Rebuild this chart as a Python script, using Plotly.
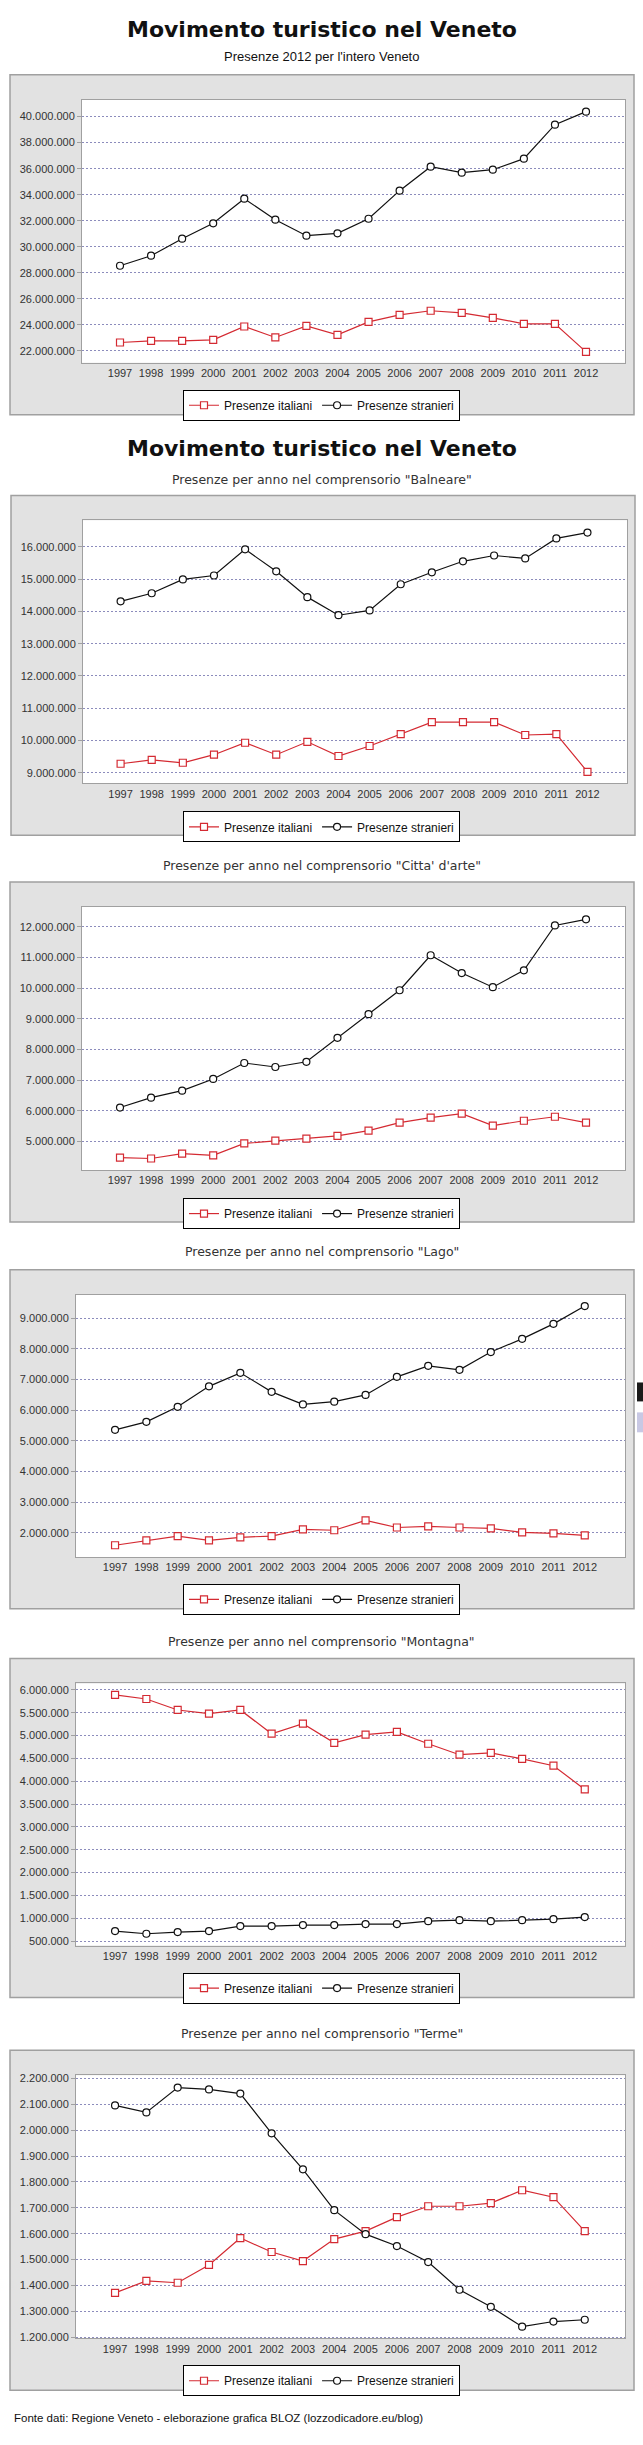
import plotly.graph_objects as go

W, H = 643, 2445

years = ["1997", "1998", "1999", "2000", "2001", "2002", "2003", "2004",
         "2005", "2006", "2007", "2008", "2009", "2010", "2011", "2012"]

veneto_italiani = [22640000, 22770000, 22770000, 22850000, 23870000, 23030000, 23920000, 23230000,
                   24230000, 24770000, 25080000, 24920000, 24540000, 24080000, 24080000, 21920000]
veneto_stranieri = [28540000, 29310000, 30620000, 31800000, 33690000, 32080000, 30850000, 31030000,
                    32150000, 34310000, 36150000, 35690000, 35920000, 36770000, 39380000, 40380000]

balneare_italiani = [9280000, 9400000, 9310000, 9560000, 9930000, 9560000, 9960000, 9520000,
                     9830000, 10200000, 10570000, 10570000, 10570000, 10170000, 10200000, 9030000]
balneare_stranieri = [14310000, 14560000, 14990000, 15110000, 15920000, 15240000, 14440000, 13880000,
                      14030000, 14840000, 15210000, 15550000, 15730000, 15640000, 16260000, 16440000]

arte_italiani = [4480000, 4450000, 4610000, 4550000, 4940000, 5030000, 5100000, 5190000,
                 5360000, 5620000, 5780000, 5910000, 5520000, 5680000, 5810000, 5620000]
arte_stranieri = [6110000, 6430000, 6660000, 7040000, 7560000, 7430000, 7600000, 8380000,
                  9150000, 9930000, 11070000, 10490000, 10030000, 10580000, 12040000, 12240000]

lago_italiani = [1590000, 1750000, 1890000, 1750000, 1850000, 1890000, 2110000, 2080000,
                 2400000, 2170000, 2210000, 2170000, 2140000, 2010000, 1980000, 1910000]
lago_stranieri = [5360000, 5620000, 6110000, 6780000, 7220000, 6600000, 6190000, 6280000,
                  6500000, 7090000, 7450000, 7320000, 7900000, 8330000, 8820000, 9400000]

montagna_italiani = [5890000, 5800000, 5560000, 5480000, 5560000, 5040000, 5260000, 4840000,
                     5020000, 5080000, 4820000, 4580000, 4620000, 4490000, 4340000, 3820000]
montagna_stranieri = [718000, 660000, 696000, 718000, 827000, 827000, 849000, 849000,
                      871000, 871000, 936000, 958000, 936000, 958000, 980000, 1024000]

terme_italiani = [1371000, 1417000, 1410000, 1479000, 1583000, 1529000, 1494000, 1579000,
                  1610000, 1664000, 1706000, 1706000, 1718000, 1768000, 1741000, 1610000]
terme_stranieri = [2096000, 2069000, 2165000, 2158000, 2142000, 1988000, 1849000, 1691000,
                   1598000, 1552000, 1490000, 1383000, 1317000, 1240000, 1260000, 1267000]

series_names = ["Presenze italiani", "Presenze stranieri"]

main_title = "Movimento turistico nel Veneto"
subtitles = [
    "Presenze 2012 per l'intero Veneto",
    'Presenze per anno nel comprensorio "Balneare"',
    'Presenze per anno nel comprensorio "Citta\' d\'arte"',
    'Presenze per anno nel comprensorio "Lago"',
    'Presenze per anno nel comprensorio "Montagna"',
    'Presenze per anno nel comprensorio "Terme"',
]
footer = "Fonte dati: Regione Veneto - eleborazione grafica BLOZ (lozzodicadore.eu/blog)"

data = [
    (veneto_italiani, veneto_stranieri),
    (balneare_italiani, balneare_stranieri),
    (arte_italiani, arte_stranieri),
    (lago_italiani, lago_stranieri),
    (montagna_italiani, montagna_stranieri),
    (terme_italiani, terme_stranieri),
]

# layout geometry in pixels
geom = [
    dict(box=(10, 72, 634, 413), plot=(82, 97, 625, 361), xr=(-1.223, 16.255), yr=(21.08e6, 41.30e6), tick0=22e6, dtick=2e6, leg=388, sub=54),
    dict(box=(11, 494, 635, 835), plot=(83, 519, 627, 783), xr=(-1.208, 16.27), yr=(8.67e6, 16.82e6), tick0=9e6, dtick=1e6, leg=811, sub=478),
    dict(box=(10, 882, 634, 1223), plot=(82, 907, 625, 1171), xr=(-1.223, 16.255), yr=(4.07e6, 12.64e6), tick0=5e6, dtick=1e6, leg=1199, sub=865),
    dict(box=(10, 1271, 634, 1611), plot=(76, 1296, 625, 1559), xr=(-1.247, 16.285), yr=(1.21e6, 9.77e6), tick0=2e6, dtick=1e6, leg=1586, sub=1253),
    dict(box=(10, 1661, 634, 2001), plot=(76, 1686, 625, 1949), xr=(-1.247, 16.285), yr=(0.40e6, 6.14e6), tick0=0.5e6, dtick=0.5e6, leg=1976, sub=1644),
    dict(box=(10, 2054, 634, 2395), plot=(76, 2079, 625, 2343), xr=(-1.247, 16.285), yr=(1.195e6, 2.213e6), tick0=1.2e6, dtick=1e5, leg=2370, sub=2037),
]

RED = "#d42a32"
BLACK = "#111111"
GRID = "#8c8cbc"
BORDER = "#a0a0a0"
PANEL = "#e2e2e2"
TICKFONT = dict(family="Liberation Sans, Arial", size=11, color="#333333")


def px(x):
    return x / W


def py(y):
    return 1 - y / H


fig = go.Figure()
shapes = []
annotations = []
layout = {}

for i, ((ita, stra), g) in enumerate(zip(data, geom)):
    n = "" if i == 0 else str(i + 1)
    xa, ya = "x" + n, "y" + n
    legname = "legend" + n
    fig.add_trace(go.Scatter(
        x=years, y=ita, name=series_names[0], mode="lines+markers",
        xaxis=xa, yaxis=ya, legend=legname,
        line=dict(color=RED, width=1.2),
        marker=dict(symbol="square", size=7, color="white", line=dict(color=RED, width=1.2)),
    ))
    fig.add_trace(go.Scatter(
        x=years, y=stra, name=series_names[1], mode="lines+markers",
        xaxis=xa, yaxis=ya, legend=legname,
        line=dict(color=BLACK, width=1.2),
        marker=dict(symbol="circle", size=7, color="white", line=dict(color=BLACK, width=1.2)),
    ))
    bx0, by0, bx1, by1 = g["box"]
    shapes.append(dict(type="rect", xref="paper", yref="paper", layer="below",
                       x0=px(bx0), x1=px(bx1), y0=py(by1), y1=py(by0),
                       fillcolor=PANEL, line=dict(color=BORDER, width=1.5)))
    x0, y0, x1, y1 = g["plot"]
    shapes.append(dict(type="rect", xref="paper", yref="paper", layer="below",
                       x0=px(x0), x1=px(x1), y0=py(y1), y1=py(y0),
                       fillcolor="white", line=dict(width=0)))
    layout["xaxis" + n] = dict(
        type="category", domain=[px(x0), px(x1)], anchor=ya, range=list(g["xr"]),
        showgrid=False, zeroline=False, showline=True, linecolor=BORDER, linewidth=1, mirror=True,
        ticks="", tickfont=TICKFONT, fixedrange=True,
    )
    layout["yaxis" + n] = dict(
        domain=[py(y1), py(y0)], anchor=xa, range=list(g["yr"]),
        tick0=g["tick0"], dtick=g["dtick"], tickformat=",d",
        showgrid=True, gridcolor=GRID, gridwidth=1, griddash="2px,2px",
        zeroline=False, showline=True, linecolor=BORDER, linewidth=1, mirror=True,
        ticks="outside", ticklen=4, tickcolor=BORDER, tickfont=TICKFONT, fixedrange=True,
    )
    layout[legname] = dict(
        orientation="h", x=0.5, xanchor="center", y=py(g["leg"]), yanchor="top",
        bgcolor="white", bordercolor="black", borderwidth=1,
        font=dict(family="Liberation Sans, Arial", size=12, color="#111111"),
        itemwidth=30, tracegroupgap=0,
    )
    if i == 0:
        annotations.append(dict(text=subtitles[i], x=0.5, y=py(g["sub"]), xref="paper", yref="paper",
                                showarrow=False, xanchor="center", yanchor="middle",
                                font=dict(family="Liberation Sans, Arial", size=13, color="#111111")))
    else:
        annotations.append(dict(text=subtitles[i], x=0.5, y=py(g["sub"]), xref="paper", yref="paper",
                                showarrow=False, xanchor="center", yanchor="middle",
                                font=dict(family="DejaVu Sans", size=12.5, color="#333333")))

for ty in (27, 447):
    annotations.append(dict(text="<b>" + main_title + "</b>", x=0.5, y=py(ty), xref="paper", yref="paper",
                            showarrow=False, xanchor="center", yanchor="middle",
                            font=dict(family="DejaVu Sans", size=22, color="#111111")))

annotations.append(dict(text=footer, x=px(12), y=py(2423), xref="paper", yref="paper",
                        showarrow=False, xanchor="left", yanchor="middle",
                        font=dict(family="Liberation Sans, Arial", size=11.5, color="#111111")))

# small screen artifact at right edge
shapes.append(dict(type="rect", xref="paper", yref="paper", layer="above",
                   x0=px(637), x1=1, y0=py(1403), y1=py(1384), fillcolor="#1a1a1a", line=dict(width=0)))
shapes.append(dict(type="rect", xref="paper", yref="paper", layer="above",
                   x0=px(637), x1=1, y0=py(1434), y1=py(1414), fillcolor="#c8c8e4", line=dict(width=0)))

fig.update_layout(
    width=W, height=H, margin=dict(l=0, r=0, t=0, b=0),
    paper_bgcolor="white", plot_bgcolor="white",
    separators=",.", showlegend=True,
    shapes=shapes, annotations=annotations,
    **layout,
)

fig.write_html("out.html")
